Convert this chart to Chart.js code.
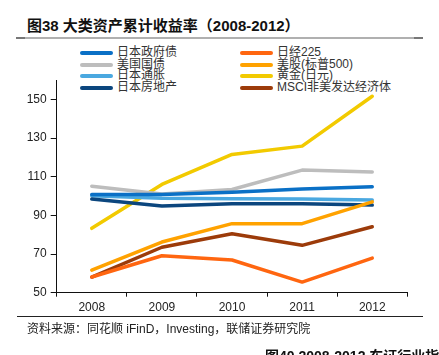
<!DOCTYPE html>
<html>
<head>
<meta charset="utf-8">
<script src="https://cdn.jsdelivr.net/npm/chart.js@4.4.1/dist/chart.umd.min.js"></script>
<style>
  html, body { margin:0; padding:0; background:#fff; width:439px; height:355px; overflow:hidden; position:relative; }
  #c { position:absolute; left:0; top:0; }
  .title { position:absolute; left:27px; top:14px; font: bold 15px "Liberation Sans", "Noto Sans CJK SC", sans-serif; color:#111; white-space:nowrap; }
  .title2 { position:absolute; left:265px; top:345px; font: bold 14px "Liberation Sans", "Noto Sans CJK SC", sans-serif; color:#111; white-space:nowrap; }
  .rule-top { position:absolute; left:16px; top:37px; width:407px; height:2px; background:#b0b0b0; }
  .rule-top .l { position:absolute; left:0; top:0; width:9px; height:2px; background:#777; }
  .rule-top .r { position:absolute; right:0; top:0; width:9px; height:2px; background:#777; }
  .rule-bot { position:absolute; left:17px; top:316px; width:406px; height:1px; background:#222; }
  .source { position:absolute; left:27px; top:319px; font: 12px "Liberation Sans", "Noto Sans CJK SC", sans-serif; color:#222; white-space:nowrap; }
  .legend { position:absolute; font: 12px "Liberation Sans", "Noto Sans CJK SC", sans-serif; color:#333; }
  .li { position:absolute; white-space:nowrap; height:12px; line-height:12px; }
  .li .sw { position:absolute; left:0; top:4px; width:33px; height:4px; border-radius:2px; }
  .li .tx { position:absolute; left:37px; top:-1px; }
</style>
</head>
<body>
<div class="title">图38 大类资产累计收益率（2008-2012）</div>
<div class="rule-top"><div class="l"></div><div class="r"></div></div>
<div id="legend"></div>
<canvas id="c" width="439" height="355"></canvas>
<div class="rule-bot"></div>
<div class="source">资料来源：同花顺 iFinD，Investing，联储证券研究院</div>
<div class="title2">图40 2008-2012 东证行业指数</div>
<script>
const categories = ['2008', '2009', '2010', '2011', '2012'];
const yTicks = [50, 70, 90, 110, 130, 150];

const seriesNames = ['日本政府债', '美国国债', '日本通胀', '日本房地产', '日经225', '美股(标普500)', '黄金(日元)', 'MSCI非美发达经济体'];
const jgb       = [100.8, 100.8, 101.9, 103.6, 104.8];
const ust       = [105.1, 101.0, 103.4, 113.4, 112.4];
const jpInfl    = [100.1, 98.9, 98.6, 98.4, 97.9];
const jpReit    = [98.4, 94.8, 96.0, 96.0, 95.3];
const nikkei    = [58.1, 69.1, 66.9, 55.5, 67.9];
const sp500     = [61.7, 76.2, 85.7, 85.7, 97.0];
const goldJpy   = [83.3, 106.0, 121.5, 125.8, 151.6];
const msciExUs  = [58.1, 73.5, 80.5, 74.5, 84.1];

const colors = ['#0A70C6', '#BDBDBD', '#4AA8E0', '#0B467E', '#FF6610', '#FFA200', '#F2CA00', '#9C3B0A'];
const seriesData = [jgb, ust, jpInfl, jpReit, nikkei, sp500, goldJpy, msciExUs];
// drawing order (lower = on top)
const drawOrder = [3, 5, 4, 2, 6, 1, 7, 8];

const datasets = seriesNames.map((n, i) => ({
  label: n,
  data: seriesData[i],
  borderColor: colors[i],
  backgroundColor: colors[i],
  borderWidth: 3.5,
  pointRadius: 0,
  tension: 0,
  fill: false,
  order: drawOrder[i],
  borderCapStyle: 'round',
  borderJoinStyle: 'round'
}));

// HTML legend: left column first four, right column last four
const legend = document.getElementById('legend');
const rowsY = [47, 58.5, 70, 82];
seriesNames.forEach((n, i) => {
  const col = i < 4 ? 0 : 1;
  const row = i % 4;
  const d = document.createElement('div');
  d.className = 'li';
  d.style.left = (col === 0 ? 80 : 240) + 'px';
  d.style.top = rowsY[row] + 'px';
  d.innerHTML = '<span class="sw" style="background:' + colors[i] + '"></span><span class="tx">' + n + '</span>';
  legend.appendChild(d);
});
legend.className = 'legend';

Chart.defaults.font.family = '"Liberation Sans", Arial, sans-serif';
Chart.defaults.font.size = 12;
Chart.defaults.color = '#222';

new Chart(document.getElementById('c'), {
  type: 'line',
  data: { labels: categories, datasets },
  options: {
    responsive: false,
    animation: false,
    layout: { padding: { left: 11.7, right: 31.7, top: 80, bottom: 32.3 } },
    plugins: { legend: { display: false }, tooltip: { enabled: false } },
    scales: {
      x: {
        offset: true,
        border: { display: true, color: '#111', width: 1 },
        grid: { display: true, drawOnChartArea: false, offset: true, tickLength: 4, color: '#111' },
        ticks: { padding: 4, color: '#222', font: { size: 12 } },
        afterFit: (s) => { s.height = 30; }
      },
      y: {
        min: 50, max: 160,
        border: { display: true, color: '#111', width: 1 },
        grid: { display: true, drawOnChartArea: false, tickLength: 6, color: '#111' },
        ticks: { stepSize: 20, padding: 4, color: '#222', font: { size: 12 } },
        afterBuildTicks: (s) => { s.ticks = yTicks.map(v => ({ value: v })); },
        afterFit: (s) => { s.width = 45; }
      }
    }
  }
});
</script>
</body>
</html>
